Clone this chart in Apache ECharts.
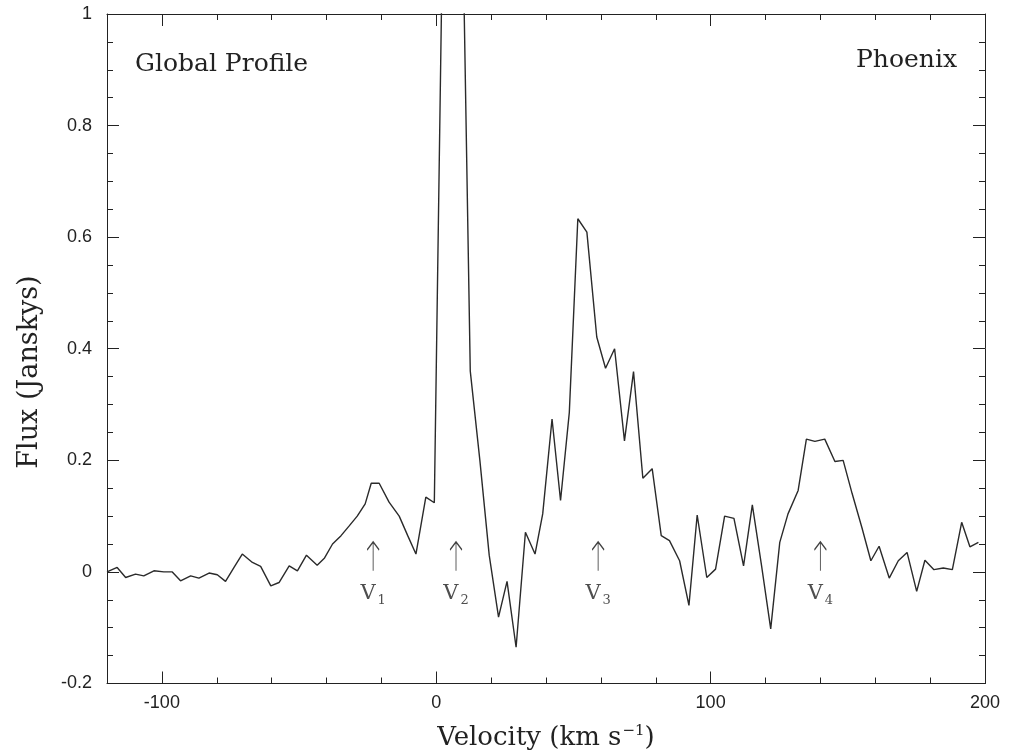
<!DOCTYPE html>
<html><head><meta charset="utf-8">
<script src="https://cdn.jsdelivr.net/npm/echarts@6/dist/echarts.min.js"></script>
<style>html,body{margin:0;padding:0;background:#fff}#c{width:1010px;height:756px}</style>
</head><body><div id="c"></div>
<script>
// Channel velocities (km/s) and global-profile flux (Jy)
const velocity = [-120.0, -116.3, -113.2, -109.6, -106.6, -102.9, -99.3, -96.2, -93.2, -89.5,
  -86.5, -82.8, -79.8, -76.8, -73.7, -70.7, -67.0, -64.0, -60.3, -57.3,
  -53.6, -50.6, -47.3, -43.4, -40.7, -37.8, -34.7, -31.8, -28.8, -25.9,
  -23.7, -20.8, -17.2, -13.5, -10.4, -7.4, -3.8, -0.7, 3.2, 6.0,
  9.1, 12.4, 15.9, 19.3, 22.7, 25.8, 29.1, 32.5, 36.0, 38.8,
  42.2, 45.3, 48.5, 51.6, 54.9, 58.5, 61.7, 65.0, 68.6, 71.9,
  75.3, 78.7, 82.0, 85.0, 88.7, 92.1, 95.1, 98.6, 101.8, 105.1,
  108.5, 112.0, 115.2, 118.6, 121.9, 125.2, 128.2, 131.9, 134.9, 138.0,
  141.6, 145.3, 148.3, 151.6, 155.1, 158.4, 161.4, 165.1, 168.4, 171.6,
  175.1, 178.1, 181.4, 184.8, 188.1, 191.5, 194.5, 197.6];
const flux = [0.0, 0.008, -0.010, -0.004, -0.007, 0.002, 0.0, 0.0, -0.016, -0.007,
  -0.011, -0.002, -0.005, -0.017, 0.008, 0.032, 0.017, 0.010, -0.025, -0.019,
  0.011, 0.002, 0.030, 0.012, 0.025, 0.050, 0.065, 0.082, 0.100, 0.122,
  0.159, 0.159, 0.125, 0.100, 0.065, 0.032, 0.134, 0.124, 1.45, 2.4,
  1.32, 0.36, 0.20, 0.03, -0.081, -0.017, -0.135, 0.071, 0.032, 0.104,
  0.274, 0.128, 0.286, 0.633, 0.609, 0.421, 0.365, 0.400, 0.235, 0.359,
  0.168, 0.185, 0.065, 0.056, 0.020, -0.060, 0.102, -0.010, 0.005, 0.100,
  0.096, 0.011, 0.120, 0.010, -0.102, 0.053, 0.104, 0.146, 0.238, 0.234,
  0.238, 0.198, 0.200, 0.140, 0.080, 0.020, 0.046, -0.011, 0.020, 0.035,
  -0.035, 0.021, 0.004, 0.007, 0.004, 0.089, 0.045, 0.053];
const xTickLabels = [-100, 0, 100, 200];
const markerVelocity = [-23, 7.2, 59, 140];
const markerSub = ['1', '2', '3', '4'];
const markerFlux = 0.028;

const ink = '#222';
const serif = 'DejaVu Serif';
const sans = 'Liberation Sans';

const chart = echarts.init(document.getElementById('c'));
const xBase = {type: 'value', min: -120, max: 200, interval: 20, splitLine: {show: false}, gridIndex: 0};
const yBase = {type: 'value', min: -0.2, max: 1, interval: 0.2, splitLine: {show: false}, gridIndex: 0};
const frameLine = {show: true, onZero: false, lineStyle: {color: ink, width: 1}};
chart.setOption({
  animation: false,
  grid: {left: 107, right: 25, top: 14, bottom: 67},
  xAxis: [
    Object.assign({}, xBase, {
      position: 'bottom',
      axisLine: frameLine,
      axisTick: {show: true, inside: true, length: 12, customValues: xTickLabels, lineStyle: {color: ink}},
      axisLabel: {customValues: xTickLabels, fontFamily: sans, fontSize: 18, color: ink, margin: 11},
      name: '{a|Velocity (km s}{b|−1}{a|)}',
      nameLocation: 'middle', nameGap: 40,
      nameTextStyle: {rich: {a: {fontFamily: serif, fontSize: 26, color: ink}, b: {fontFamily: serif, fontSize: 15, color: ink, padding: [0, 0, 14, 1]}}}
    }),
    Object.assign({}, xBase, {
      position: 'bottom', axisLine: {show: false, onZero: false},
      axisTick: {show: true, inside: true, length: 6, lineStyle: {color: ink}},
      axisLabel: {show: false}
    }),
    Object.assign({}, xBase, {
      position: 'top',
      axisLine: frameLine,
      axisTick: {show: true, inside: true, length: 12, customValues: xTickLabels, lineStyle: {color: ink}},
      axisLabel: {show: false}
    }),
    Object.assign({}, xBase, {
      position: 'top', axisLine: {show: false, onZero: false},
      axisTick: {show: true, inside: true, length: 6, lineStyle: {color: ink}},
      axisLabel: {show: false}
    })
  ],
  yAxis: [
    Object.assign({}, yBase, {
      position: 'left',
      axisLine: frameLine,
      axisTick: {show: true, inside: true, length: 12, lineStyle: {color: ink}},
      minorTick: {show: true, splitNumber: 4, length: 6, lineStyle: {color: ink}},
      axisLabel: {fontFamily: sans, fontSize: 18, color: ink, margin: 15}
    }),
    Object.assign({}, yBase, {
      position: 'right',
      axisLine: frameLine,
      axisTick: {show: true, inside: true, length: 12, lineStyle: {color: ink}},
      minorTick: {show: true, splitNumber: 4, length: 6, lineStyle: {color: ink}},
      axisLabel: {show: false}
    })
  ],
  graphic: [
    {type: 'text', left: 135, top: 52, style: {text: 'Global Profile', fontFamily: serif, fontSize: 25, fill: ink}},
    {type: 'text', right: 53, top: 48, style: {text: 'Phoenix', fontFamily: serif, fontSize: 25, fill: ink}},
    {type: 'text', x: 30, y: 372, rotation: Math.PI / 2,
      style: {text: 'Flux (Janskys)', fontFamily: serif, fontSize: 27, fill: ink, align: 'center', verticalAlign: 'middle'}}
  ],
  series: [
    {
      type: 'line', xAxisIndex: 0, yAxisIndex: 0,
      data: velocity.map((v, i) => [v, flux[i]]),
      showSymbol: false, clip: true,
      lineStyle: {color: '#2a2a2a', width: 1.4}
    },
    {
      type: 'scatter', xAxisIndex: 0, yAxisIndex: 0,
      data: markerVelocity.map(v => [v, markerFlux]),
      symbol: 'path://M6,0 L6,29 M0,8 L6,0 L12,8',
      symbolSize: [12, 29],
      itemStyle: {color: 'transparent', borderColor: '#111', borderWidth: 1.3},
      label: {
        show: true, position: 'bottom', distance: 8,
        formatter: p => '{v|V}{s|' + markerSub[p.dataIndex] + '}',
        rich: {v: {fontFamily: serif, fontSize: 21, color: ink}, s: {fontFamily: serif, fontSize: 13, color: ink, padding: [14, 0, 0, 2]}}
      },
      silent: true
    }
  ]
});
</script></body></html>
